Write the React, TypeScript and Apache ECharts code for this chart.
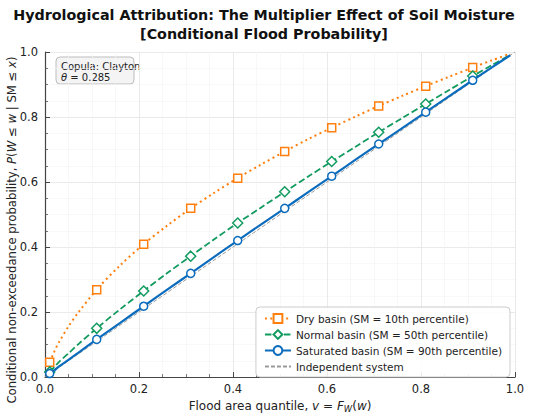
import React, { useEffect, useRef } from "react";
import * as echarts from "echarts";

const vSamples = [0.01, 0.02, 0.03, 0.05, 0.07, 0.11, 0.16, 0.21, 0.26, 0.31, 0.36, 0.41, 0.46, 0.51, 0.56, 0.61, 0.66, 0.71, 0.76, 0.81, 0.86, 0.91, 0.95, 0.99];
const dryBasin = [0.046, 0.079, 0.108, 0.156, 0.197, 0.269, 0.344, 0.409, 0.466, 0.519, 0.567, 0.612, 0.654, 0.694, 0.732, 0.767, 0.801, 0.834, 0.865, 0.895, 0.924, 0.952, 0.974, 0.995];
const normalBasin = [0.016, 0.031, 0.047, 0.073, 0.1, 0.15, 0.209, 0.265, 0.32, 0.372, 0.424, 0.474, 0.522, 0.57, 0.617, 0.663, 0.708, 0.753, 0.797, 0.84, 0.883, 0.926, 0.959, 0.991];
const saturatedBasin = [0.011, 0.021, 0.033, 0.053, 0.074, 0.116, 0.167, 0.218, 0.269, 0.319, 0.37, 0.42, 0.47, 0.519, 0.569, 0.618, 0.668, 0.717, 0.766, 0.815, 0.864, 0.913, 0.952, 0.99];
const markerAt = [0.01, 0.11, 0.21, 0.31, 0.41, 0.51, 0.61, 0.71, 0.81, 0.91];
const independentX = [0, 1];
const independentY = [0, 1];

const seriesNames = [
  "Dry basin (SM = 10th percentile)",
  "Normal basin (SM = 50th percentile)",
  "Saturated basin (SM = 90th percentile)",
  "Independent system",
];

const FONT = "DejaVu Sans";
const ORANGE = "#ff7f0e";
const GREEN = "#129b5f";
const BLUE = "#0b6cbd";

function buildData(vals: number[]) {
  return vSamples.map((v, i) =>
    markerAt.includes(v) ? { value: [v, vals[i]] } : { value: [v, vals[i]], symbol: "none" }
  );
}

export default function App() {
  const ref = useRef<HTMLDivElement>(null);
  useEffect(() => {
    if (!ref.current) return;
    const chart = echarts.init(ref.current, null, { renderer: "svg" });
    const axisCommon = {
      type: "value",
      min: 0,
      max: 1,
      interval: 0.2,
      axisLine: { show: true, lineStyle: { color: "#444", width: 1.2 } },
      axisTick: { show: true, inside: true, length: 5, lineStyle: { color: "#444", width: 1 } },
      minorTick: { show: true, splitNumber: 4, length: 3, lineStyle: { color: "#555", width: 0.8 } },
      splitLine: { show: true, lineStyle: { color: "#e4e4e4", width: 0.8 } },
      minorSplitLine: { show: true, lineStyle: { color: "#f3f3f3", width: 0.6 } },
      axisLabel: {
        formatter: (v: number) => v.toFixed(1),
        fontFamily: FONT,
        fontSize: 11.5,
        color: "#222",
      },
      nameLocation: "middle",
    };
    const yRich = {
      n: { fontFamily: FONT, fontSize: 11.7, fill: "#222" },
      i: { fontStyle: "italic", fontFamily: FONT, fontSize: 11.7, fill: "#222" },
    };
    chart.setOption({
      animation: false,
      backgroundColor: "#fff",
      textStyle: { fontFamily: FONT },
      grid: { left: 45, top: 52, width: 470, height: 329, containLabel: false },
      xAxis: {
        ...axisCommon,
        axisLabel: { ...axisCommon.axisLabel, margin: 6 },
        name: "Flood area quantile, {i|v} = {i|F}{sub|W}{n|(}{i|w}{n|)}",
        nameGap: 17,
        nameTextStyle: {
          fontFamily: FONT,
          fontSize: 12,
          color: "#222",
          rich: {
            n: { fontFamily: FONT, fontSize: 12, color: "#222" },
            i: { fontStyle: "italic", fontFamily: FONT, fontSize: 12, color: "#222" },
            sub: { fontStyle: "italic", fontFamily: FONT, fontSize: 8.5, color: "#222", padding: [5, 0, 0, 0] },
          },
        },
      },
      yAxis: {
        ...axisCommon,
        axisLabel: { ...axisCommon.axisLabel, margin: 7 },
      },
      legend: {
        orient: "vertical",
        right: 40,
        bottom: 41,
        data: seriesNames,
        backgroundColor: "rgba(255,255,255,0.9)",
        borderColor: "#cccccc",
        borderWidth: 1,
        borderRadius: 4,
        padding: [6, 8, 5, 8],
        itemGap: 5,
        itemWidth: 26,
        itemHeight: 11,
        textStyle: { fontFamily: FONT, fontSize: 10.5, color: "#222" },
      },
      graphic: [
        {
          type: "text",
          x: 264,
          y: 5,
          style: {
            text: "Hydrological Attribution: The Multiplier Effect of Soil Moisture\n[Conditional Flood Probability]",
            fontFamily: FONT,
            fontWeight: "bold",
            fontSize: 14.3,
            lineHeight: 19,
            fill: "#111",
            align: "center",
          },
        },
        {
          type: "text",
          x: 12,
          y: 230,
          rotation: Math.PI / 2,
          style: {
            text: "{n|Conditional non-exceedance probability, }{i|P}{n|(}{i|W}{n| ≤ }{i|w}{n| | SM ≤ }{i|x}{n|)}",
            fontFamily: FONT,
            fontSize: 11.7,
            fill: "#222",
            align: "center",
            verticalAlign: "middle",
            rich: yRich,
          },
        },
        {
          type: "group",
          x: 56,
          y: 57,
          children: [
            {
              type: "rect",
              shape: { x: 0, y: 0, width: 78, height: 27, r: 4 },
              style: { fill: "#f4f4f4", stroke: "#bdbdbd", lineWidth: 1 },
            },
            {
              type: "text",
              x: 5,
              y: 3.5,
              style: {
                text: "Copula: Clayton\n{i|θ} = 0.285",
                fontFamily: FONT,
                fontSize: 10,
                lineHeight: 11.5,
                fill: "#222",
                rich: { i: { fontStyle: "italic", fontFamily: FONT, fontSize: 10, fill: "#222" } },
              },
            },
          ],
        },
      ],
      series: [
        {
          name: seriesNames[0],
          type: "line",
          data: buildData(dryBasin),
          smooth: 0.3,
          symbol: "rect",
          symbolSize: 8,
          showAllSymbol: true,
          lineStyle: { color: ORANGE, width: 2, type: [2, 3.3] },
          itemStyle: { color: "#fff", borderColor: ORANGE, borderWidth: 1.5 },
          z: 3,
        },
        {
          name: seriesNames[1],
          type: "line",
          data: buildData(normalBasin),
          smooth: 0.3,
          symbol: "diamond",
          symbolSize: 10,
          showAllSymbol: true,
          lineStyle: { color: GREEN, width: 1.8, type: [6.5, 3] },
          itemStyle: { color: "#fff", borderColor: GREEN, borderWidth: 1.5 },
          z: 4,
        },
        {
          name: seriesNames[2],
          type: "line",
          data: buildData(saturatedBasin),
          smooth: 0.3,
          symbol: "circle",
          symbolSize: 8,
          showAllSymbol: true,
          lineStyle: { color: BLUE, width: 2.2, type: "solid" },
          itemStyle: { color: "#fff", borderColor: BLUE, borderWidth: 1.5 },
          z: 5,
        },
        {
          name: seriesNames[3],
          type: "line",
          data: independentX.map((x, i) => [x, independentY[i]]),
          symbol: "none",
          lineStyle: { color: "#9a9a9a", width: 1, type: [4, 2] },
          itemStyle: { color: "#9a9a9a", opacity: 0 },
          z: 2,
        },
      ],
    });
    return () => chart.dispose();
  }, []);
  return <div ref={ref} style={{ position: "fixed", left: 0, top: 0, width: 550, height: 418 }} />;
}
